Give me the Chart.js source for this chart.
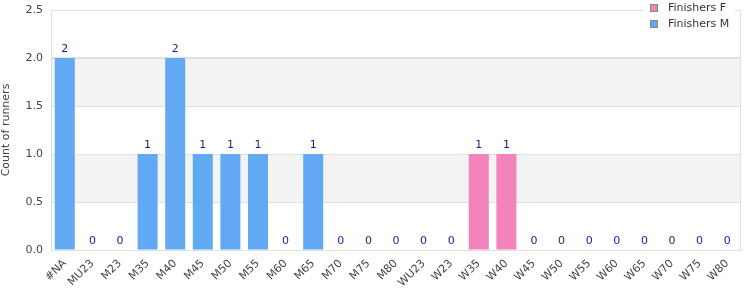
<!DOCTYPE html>
<html>
<head>
<meta charset="utf-8">
<script src="https://cdn.jsdelivr.net/npm/chart.js@4"></script>
<style>
  html, body { margin: 0; padding: 0; background: #fff; }
  #wrap { width: 750px; height: 300px; }
</style>
</head>
<body>
<div id="wrap"><canvas id="chart" width="750" height="300"></canvas></div>
<script>
// Catégories (groupes d'âge)
const categories = ['#NA','MU23','M23','M35','M40','M45','M50','M55','M60','M65','M70','M75','M80',
  'WU23','W23','W35','W40','W45','W50','W55','W60','W65','W70','W75','W80'];

// Valeurs des séries (null = catégorie de l'autre série)
const finishersF = [null,null,null,null,null,null,null,null,null,null,null,null,null,
  0,0,1,1,0,0,0,0,0,0,0,0];
const finishersM = [2,0,0,1,2,1,1,1,0,1,0,0,0,
  null,null,null,null,null,null,null,null,null,null,null,null];

const yTicks = [0, 0.5, 1, 1.5, 2, 2.5];

const FONT = 'DejaVu Sans, sans-serif';

// Bandes grises alternées + grille + bords
const bandsPlugin = {
  id: 'bands',
  beforeDatasetsDraw(chart) {
    const { ctx, chartArea, scales } = chart;
    const y = scales.y;
    ctx.save();
    ctx.fillStyle = '#f3f3f3';
    [[0.5, 1], [1.5, 2]].forEach(([a, b]) => {
      const top = y.getPixelForValue(b);
      const bot = y.getPixelForValue(a);
      ctx.fillRect(chartArea.left, top, chartArea.right - chartArea.left, bot - top);
    });
    ctx.strokeStyle = '#e0e0e0';
    ctx.lineWidth = 1;
    yTicks.forEach(v => {
      const py = Math.round(y.getPixelForValue(v)) + 0.5;
      ctx.beginPath();
      ctx.moveTo(chartArea.left, py);
      ctx.lineTo(chartArea.right, py);
      ctx.stroke();
    });
    ctx.beginPath();
    ctx.moveTo(Math.round(chartArea.left) + 0.5, chartArea.top);
    ctx.lineTo(Math.round(chartArea.left) + 0.5, chartArea.bottom);
    ctx.moveTo(Math.round(chartArea.right) - 0.5, chartArea.top);
    ctx.lineTo(Math.round(chartArea.right) - 0.5, chartArea.bottom);
    ctx.stroke();
    ctx.restore();
  }
};

// Étiquettes de valeur au-dessus des barres
const labelsPlugin = {
  id: 'valueLabels',
  afterDatasetsDraw(chart) {
    const { ctx, scales } = chart;
    ctx.save();
    ctx.font = '11px ' + FONT;
    ctx.fillStyle = '#1a1a99';
    ctx.textAlign = 'center';
    ctx.textBaseline = 'bottom';
    categories.forEach((c, i) => {
      const v = finishersM[i] !== null ? finishersM[i] : finishersF[i];
      const px = scales.x.getPixelForValue(i);
      const py = scales.y.getPixelForValue(v);
      ctx.fillText(String(v), px, py - 3);
    });
    ctx.restore();
  }
};

// Légende en haut à droite
const legendPlugin = {
  id: 'customLegend',
  afterDraw(chart) {
    const { ctx } = chart;
    ctx.save();
    ctx.fillStyle = '#fff';
    ctx.fillRect(643, 0, 92, 34);
    const items = [chart.data.datasets[0], chart.data.datasets[1]];
    items.forEach((ds, i) => {
      const y0 = 4 + i * 16;
      ctx.fillStyle = ds.backgroundColor;
      ctx.fillRect(650.5, y0 + 0.5, 7, 7);
      ctx.strokeStyle = '#888';
      ctx.lineWidth = 1;
      ctx.strokeRect(650.5, y0 + 0.5, 7, 7);
      ctx.fillStyle = '#333';
      ctx.font = '11px ' + FONT;
      ctx.textAlign = 'left';
      ctx.textBaseline = 'middle';
      ctx.fillText(ds.label, 668, y0 + 4);
    });
    ctx.restore();
  }
};

const ctx = document.getElementById('chart').getContext('2d');
new Chart(ctx, {
  type: 'bar',
  data: {
    labels: categories,
    datasets: [
      { label: 'Finishers F', data: finishersF, backgroundColor: '#f283bb' },
      { label: 'Finishers M', data: finishersM, backgroundColor: '#62a9f3' }
    ]
  },
  options: {
    responsive: false,
    animation: false,
    layout: { padding: { top: 10, right: 9, left: 0, bottom: 0 } },
    datasets: { bar: { barPercentage: 0.725, categoryPercentage: 1, grouped: false } },
    plugins: { legend: { display: false }, tooltip: { enabled: false } },
    scales: {
      x: {
        grid: { display: false, drawTicks: false },
        border: { color: '#d4d4d4' },
        ticks: {
          color: '#444',
          font: { family: FONT, size: 11 },
          maxRotation: 45, minRotation: 45,
          autoSkip: false,
          padding: 7
        },
        afterFit(s) { s.height = 50; s.paddingLeft = 0; s.paddingRight = 0; }
      },
      y: {
        min: 0, max: 2.5,
        afterBuildTicks(s) { s.ticks = yTicks.map(v => ({ value: v })); },
        grid: { color: '#e0e0e0', drawTicks: false },
        border: { display: false },
        ticks: {
          color: '#444',
          font: { family: FONT, size: 11 },
          padding: 8,
          callback: v => v.toFixed(1)
        },
        title: {
          display: true, text: 'Count of runners',
          color: '#444', font: { family: FONT, size: 11 }, padding: 0
        },
        afterFit(s) { s.width = 51; s.paddingTop = 0; s.paddingBottom = 0; }
      }
    }
  },
  plugins: [bandsPlugin, labelsPlugin, legendPlugin]
});
</script>
</body>
</html>
